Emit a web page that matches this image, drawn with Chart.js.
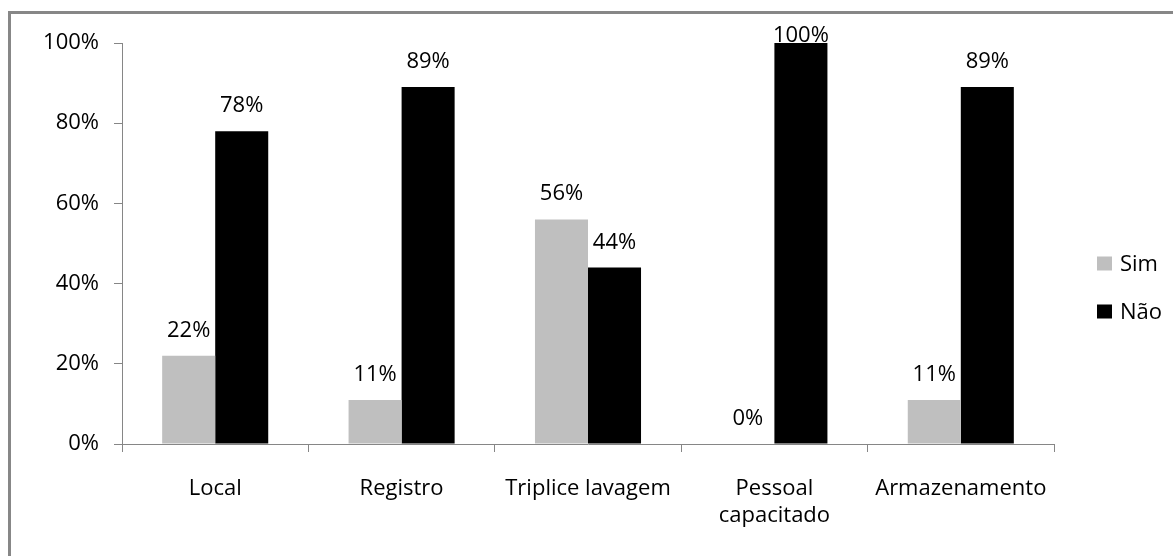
<!DOCTYPE html>
<html>
<head>
<meta charset="utf-8">
<script src="https://cdn.jsdelivr.net/npm/chart.js@4/dist/chart.umd.min.js"></script>
<style>
  html, body { margin: 0; padding: 0; width: 1173px; height: 556px; overflow: hidden; background: #fff; }
  #frame { position: absolute; left: 8px; top: 11px; width: 1200px; height: 600px;
           border-left: 3px solid #878787; border-top: 3px solid #878787; }
  #wrap { position: absolute; left: 0; top: 0; width: 1173px; height: 556px; }
</style>
</head>
<body>
<div id="frame"></div>
<div id="wrap"><canvas id="chart"></canvas></div>
<script>
// Categories and percentages (Sim / Não)
const categories = ['Local', 'Registro', 'Triplice lavagem', ['Pessoal', 'capacitado'], 'Armazenamento'];
const simValues = [22, 11, 56, 0, 11];
const naoValues = [78, 89, 44, 100, 89];
const seriesNames = ['Sim', 'Não'];
const yTicks = [0, 20, 40, 60, 80, 100];

const FONT = '"Open Sans", "DejaVu Sans", sans-serif';
const AXIS_GREY = '#868686';

// Percentage labels above each bar, kept inside the plot top
const barLabels = {
  id: 'barLabels',
  afterDatasetsDraw(chart) {
    const ctx = chart.ctx;
    ctx.save();
    ctx.font = '22px ' + FONT;
    ctx.fillStyle = '#000';
    ctx.textAlign = 'center';
    ctx.textBaseline = 'alphabetic';
    chart.data.datasets.forEach((ds, i) => {
      chart.getDatasetMeta(i).data.forEach((bar, j) => {
        const y = Math.max(bar.y - 19, chart.chartArea.top - 1);
        ctx.fillText(ds.data[j] + '%', bar.x, y);
      });
    });
    ctx.restore();
  }
};

// Legend to the right of the plot
const sideLegend = {
  id: 'sideLegend',
  afterDraw(chart) {
    const ctx = chart.ctx;
    const x = chart.chartArea.right + 43;
    const y0 = 263.5;
    const gap = 48;
    ctx.save();
    ctx.font = '22px ' + FONT;
    ctx.textAlign = 'left';
    ctx.textBaseline = 'middle';
    chart.data.datasets.forEach((ds, i) => {
      const cy = y0 + i * gap;
      ctx.fillStyle = ds.backgroundColor;
      ctx.fillRect(x, cy - 7, 15, 14);
      ctx.fillStyle = '#000';
      ctx.fillText(ds.label, x + 23, cy + 1);
    });
    ctx.restore();
  }
};

new Chart(document.getElementById('chart'), {
  type: 'bar',
  data: {
    labels: categories,
    datasets: [
      { label: seriesNames[0], data: simValues, backgroundColor: '#BFBFBF' },
      { label: seriesNames[1], data: naoValues, backgroundColor: '#000000' }
    ]
  },
  plugins: [barLabels, sideLegend],
  options: {
    responsive: true,
    maintainAspectRatio: false,
    animation: false,
    layout: { padding: { left: 0, right: 119, top: 43, bottom: 0 } },
    plugins: { legend: { display: false }, tooltip: { enabled: false } },
    datasets: { bar: { categoryPercentage: 0.569, barPercentage: 1.0 } },
    scales: {
      x: {
        grid: { offset: true, drawOnChartArea: false, drawTicks: true, tickLength: 8, color: AXIS_GREY },
        border: { color: AXIS_GREY, width: 1 },
        ticks: { color: '#000', font: { family: FONT, size: 22, lineHeight: 1.23 }, padding: 23, maxRotation: 0, autoSkip: false },
        afterFit(s) { s.height = 112; }
      },
      y: {
        min: 0, max: 100,
        afterBuildTicks(s) { s.ticks = yTicks.map(v => ({ value: v })); },
        grid: { drawOnChartArea: false, drawTicks: true, tickLength: 8, color: AXIS_GREY },
        border: { color: AXIS_GREY, width: 1 },
        ticks: { color: '#000', font: { family: FONT, size: 22 }, padding: 15, callback: v => v + '%' },
        afterFit(s) { s.width = 122; }
      }
    }
  }
});
</script>
</body>
</html>
